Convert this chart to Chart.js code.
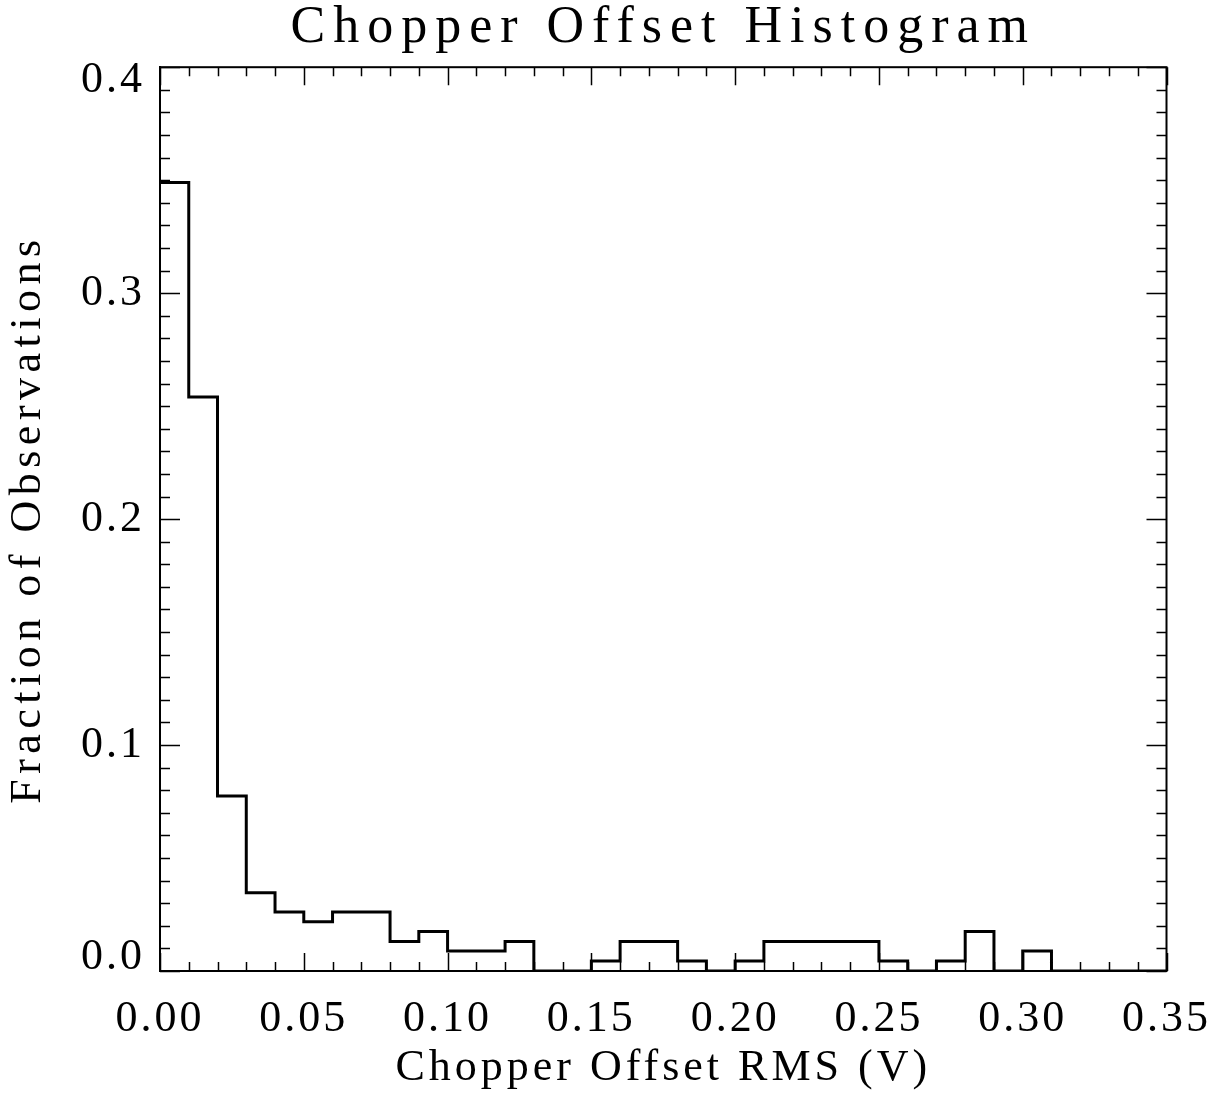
<!DOCTYPE html>
<html>
<head>
<meta charset="utf-8">
<script src="https://cdn.jsdelivr.net/npm/chart.js@4"></script>
<style>
  html, body { margin: 0; padding: 0; background: #fff; }
  canvas { display: block; }
</style>
</head>
<body>
<canvas id="c" width="1227" height="1095"></canvas>
<script>
// ---- data ----
const chartTitle = "Chopper Offset Histogram";
const xAxisTitle = "Chopper Offset RMS (V)";
const yAxisTitle = "Fraction of Observations";
const binStarts = [0.00, 0.01, 0.02, 0.03, 0.04, 0.05, 0.06, 0.07, 0.08, 0.09,
                   0.10, 0.11, 0.12, 0.13, 0.14, 0.15, 0.16, 0.17, 0.18, 0.19,
                   0.20, 0.21, 0.22, 0.23, 0.24, 0.25, 0.26, 0.27, 0.28, 0.29,
                   0.30, 0.31, 0.32, 0.33, 0.34];
const binEnd = 0.35;
const fractions = [0.349, 0.254, 0.0775, 0.0346, 0.0261, 0.0218, 0.0261, 0.0261, 0.0131, 0.0175,
                   0.0088, 0.0088, 0.0131, 0.0, 0.0, 0.0044, 0.0131, 0.0131, 0.0044, 0.0,
                   0.0044, 0.0131, 0.0131, 0.0131, 0.0131, 0.0044, 0.0, 0.0044, 0.0175, 0.0,
                   0.0088, 0.0, 0.0, 0.0, 0.0];
const xTickValues = [0.00, 0.05, 0.10, 0.15, 0.20, 0.25, 0.30, 0.35];
const yTickValues = [0.0, 0.1, 0.2, 0.3, 0.4];

// ---- build points for the step line ----
const points = binStarts.map((x, i) => ({ x: x, y: fractions[i] }));
points.push({ x: binEnd, y: fractions[fractions.length - 1] });

const SERIF = "'Liberation Serif', 'Times New Roman', serif";

// letter-spacing wrapper for Hershey-like spaced text
const spacingPlugin = {
  id: 'spacing',
  afterUpdate(chart) {
    const wrap = (obj, fn, ls) => {
      if (!obj || obj['__wrapped_' + fn]) return;
      const orig = obj[fn];
      obj[fn] = function (...args) {
        const ctx = chart.ctx;
        const prev = ctx.letterSpacing;
        ctx.letterSpacing = ls;
        try { return orig.apply(this, args); }
        finally { ctx.letterSpacing = prev; }
      };
      obj['__wrapped_' + fn] = true;
    };
    wrap(chart.titleBlock, 'draw', '8px');
    wrap(chart.scales.x, 'drawTitle', '4px');
    wrap(chart.scales.y, 'drawTitle', '5.5px');
    wrap(chart.scales.x, 'drawLabels', '3px');
    wrap(chart.scales.y, 'drawLabels', '3px');
  }
};

// frame + inward minor/major ticks on all four sides
const frameTicksPlugin = {
  id: 'frameTicks',
  afterDraw(chart) {
    const { ctx, chartArea: a, scales: { x, y } } = chart;
    ctx.save();
    ctx.strokeStyle = '#000';
    ctx.lineWidth = 1.5;
    ctx.beginPath();
    // x ticks: minor every 0.01, major every 0.05
    for (let i = 0; i <= 35; i++) {
      const px = Math.round(x.getPixelForValue(i / 100)) + 0.5;
      const len = (i % 5 === 0) ? 18 : 9;
      ctx.moveTo(px, a.bottom); ctx.lineTo(px, a.bottom - len);
      ctx.moveTo(px, a.top); ctx.lineTo(px, a.top + len);
    }
    // y ticks: minor every 0.01, major every 0.1
    for (let i = 0; i <= 40; i++) {
      const py = Math.round(y.getPixelForValue(i / 100)) + 0.5;
      const len = (i % 10 === 0) ? 20 : 10;
      ctx.moveTo(a.left, py); ctx.lineTo(a.left + len, py);
      ctx.moveTo(a.right, py); ctx.lineTo(a.right - len, py);
    }
    ctx.stroke();
    ctx.lineWidth = 2;
    ctx.strokeRect(a.left, a.top, a.right - a.left, a.bottom - a.top);
    ctx.restore();
  }
};

new Chart(document.getElementById('c'), {
  type: 'line',
  data: {
    datasets: [{
      data: points,
      stepped: 'before',
      borderColor: '#000',
      borderWidth: 3,
      pointRadius: 0,
      fill: false,
      tension: 0
    }]
  },
  options: {
    responsive: false,
    animation: false,
    devicePixelRatio: 1,
    layout: { padding: { left: 0, right: 60, top: 0, bottom: 0 } },
    plugins: {
      legend: { display: false },
      tooltip: { enabled: false },
      title: {
        display: true,
        text: chartTitle,
        fullSize: false,
        color: '#000',
        font: { family: SERIF, size: 52, weight: 'normal', lineHeight: 1.1 },
        padding: { top: 0, bottom: 10 }
      }
    },
    scales: {
      x: {
        type: 'linear',
        min: 0,
        max: binEnd,
        afterFit(scale) { scale.height = 124; },
        afterBuildTicks(scale) { scale.ticks = xTickValues.map(v => ({ value: v })); },
        grid: { display: false, drawTicks: false },
        border: { display: true, color: '#000', width: 2 },
        ticks: {
          color: '#000',
          padding: 22,
          maxRotation: 0,
          autoSkip: false,
          font: { family: SERIF, size: 44, lineHeight: 1.2 },
          callback: (v) => Number(v).toFixed(2)
        },
        title: {
          display: true,
          text: xAxisTitle,
          color: '#000',
          font: { family: SERIF, size: 44, lineHeight: 1.2 },
          padding: { top: 0, bottom: 0 }
        }
      },
      y: {
        type: 'linear',
        min: 0,
        max: 0.4,
        afterFit(scale) { scale.width = 160; },
        afterBuildTicks(scale) { scale.ticks = yTickValues.map(v => ({ value: v })); },
        grid: { display: false, drawTicks: false },
        border: { display: true, color: '#000', width: 2 },
        ticks: {
          color: '#000',
          padding: 15,
          autoSkip: false,
          font: { family: SERIF, size: 44, lineHeight: 0.62 },
          callback: (v) => {
            const s = Number(v).toFixed(1);
            if (v === yTickValues[yTickValues.length - 1]) return ['', s];
            if (v === yTickValues[0]) return [s, ''];
            return s;
          }
        },
        title: {
          display: true,
          text: yAxisTitle,
          color: '#000',
          font: { family: SERIF, size: 44, lineHeight: 1.2 },
          padding: { top: 2, bottom: 0 }
        }
      }
    }
  },
  plugins: [spacingPlugin, frameTicksPlugin]
});
</script>
</body>
</html>
